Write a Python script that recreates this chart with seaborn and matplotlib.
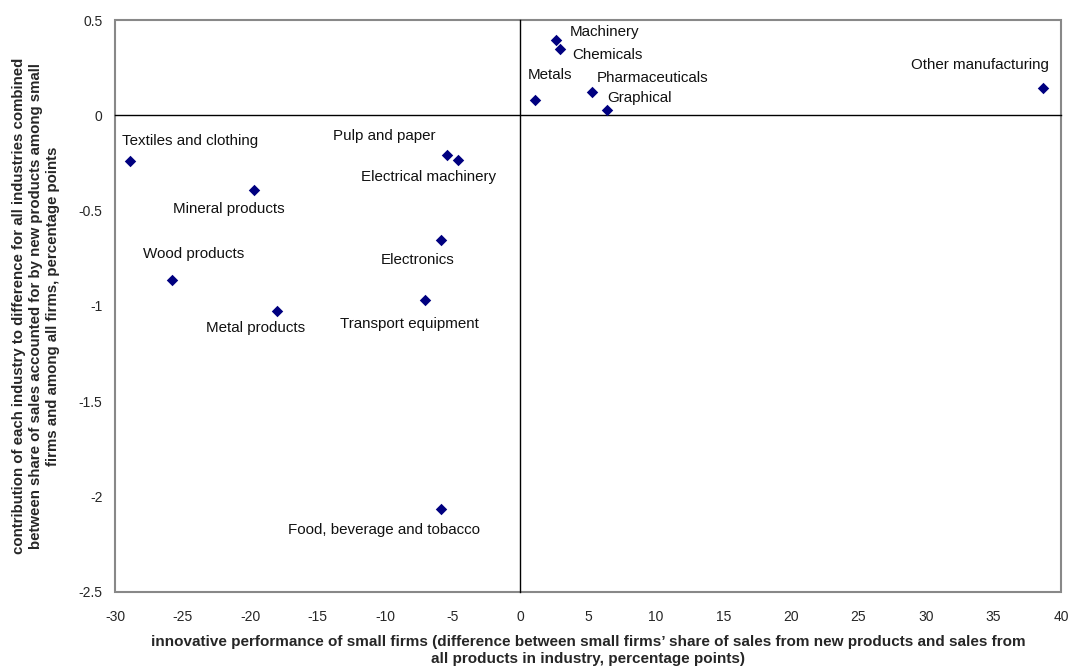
import numpy as np
import pandas as pd
import matplotlib
matplotlib.use("Agg")
import matplotlib.pyplot as plt
import matplotlib.patches as mpatches
import seaborn as sns

industries = ["Textiles and clothing", "Mineral products", "Wood products", "Metal products",
              "Pulp and paper", "Electrical machinery", "Electronics", "Transport equipment",
              "Food, beverage and tobacco", "Machinery", "Chemicals", "Metals",
              "Pharmaceuticals", "Graphical", "Other manufacturing"]
performance = [-28.9, -19.7, -25.8, -18.05, -5.4, -4.6, -5.9, -7.1, -5.87,
               2.6, 2.9, 1.07, 5.3, 6.4, 38.65]
contribution = [-0.238, -0.393, -0.865, -1.024, -0.21, -0.232, -0.655, -0.97, -2.066,
                0.397, 0.348, 0.079, 0.122, 0.026, 0.143]
# label offsets in pixels (dx, dy) from each point, positive dy = up
label_offsets = [(60, 20), (-25, -19), (22, 26), (-21, -17),
                 (-63, 19), (-30, -17), (-23, -20), (-15, -24),
                 (-57, -21), (49, 8), (48, -6), (15, 25),
                 (60, 14), (33, 12), (-63, 23)]

xticks = np.arange(-30, 41, 5)
yticks = np.arange(-2.5, 0.51, 0.5)

df = pd.DataFrame({"industry": industries, "x": performance, "y": contribution})

sns.set_style("white")
plt.rcParams["font.family"] = ["Liberation Sans", "DejaVu Sans"]

fig = plt.figure(figsize=(10.69, 6.68), dpi=100)
ax = fig.add_axes([0.1076, 0.114, 0.885, 0.856])

sns.scatterplot(data=df, x="x", y="y", marker="D", color="#000080", s=34,
                edgecolor="#000080", linewidth=0, ax=ax, zorder=5)

ax.set_xlim(-30, 40)
ax.set_ylim(-2.5, 0.5)

# crossing axes at zero
ax.spines["left"].set_position(("data", 0))
ax.spines["bottom"].set_position(("data", 0))
ax.spines["right"].set_visible(False)
ax.spines["top"].set_visible(False)
for s in ["left", "bottom"]:
    ax.spines[s].set_color("black")
    ax.spines[s].set_linewidth(1.0)
ax.set_xticks(xticks)
ax.set_yticks(yticks)
ax.tick_params(axis="both", direction="inout", length=8, width=1, color="black",
               labelleft=False, labelbottom=False)

# grey frame around plot area
ax.add_patch(mpatches.Rectangle((0, 0), 1, 1, transform=ax.transAxes, fill=False,
                                edgecolor="#888888", linewidth=1.5, zorder=1, clip_on=False))

# tick labels on the outside of the plot area
xsec = ax.secondary_xaxis("bottom")
xsec.set_xticks(xticks)
xsec.set_xticklabels([f"{v:g}" for v in xticks])
xsec.tick_params(length=0, labelsize=10, pad=13)
xsec.spines["bottom"].set_visible(False)
ysec = ax.secondary_yaxis("left")
ysec.set_yticks(yticks)
ysec.set_yticklabels([f"{v:g}" for v in yticks])
ysec.tick_params(length=0, labelsize=10, pad=9)
ysec.spines["left"].set_visible(False)

xsec.set_xlabel("innovative performance of small firms (difference between small firms\u2019 share of sales from new products and sales from\nall products in industry, percentage points)",
                fontsize=11, fontweight="bold", labelpad=8, linespacing=1.3)
ysec.set_ylabel("contribution of each industry to difference for all industries combined\nbetween share of sales accounted for by new products among small\nfirms and among all firms, percentage points",
                fontsize=10.8, fontweight="bold", labelpad=13, linespacing=1.3)
ax.set_xlabel("")
ax.set_ylabel("")

for name, x, y, (dx, dy) in zip(industries, performance, contribution, label_offsets):
    ax.annotate(name, (x, y), xytext=(dx, dy), textcoords="offset pixels",
                ha="center", va="center", fontsize=10.9, color="#111111")

fig.savefig("out.png", dpi=100)
